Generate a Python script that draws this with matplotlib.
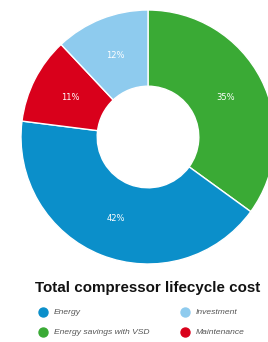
import matplotlib
matplotlib.use("Agg")
import matplotlib.pyplot as plt

categories = ["Energy savings with VSD", "Energy", "Maintenance", "Investment"]
values = [35, 42, 11, 12]
colors = ["#3aaa35", "#0b8fca", "#d9001b", "#8ecbee"]
labels = ["35%", "42%", "11%", "12%"]

legend_order = ["Energy", "Energy savings with VSD", "Investment", "Maintenance"]
title = "Total compressor lifecycle cost"

fig = plt.figure(figsize=(2.68, 3.42), dpi=100)
fig.patch.set_facecolor("white")

ax = fig.add_axes([21/268, 78/342, 254/268, 254/342])
wedges, texts = ax.pie(values, colors=colors, startangle=90, counterclock=False,
                       radius=1.0, wedgeprops=dict(width=0.6, edgecolor="white", linewidth=1.0),
                       labels=labels, labeldistance=0.69,
                       textprops=dict(color="white", fontsize=6, ha="center", va="center"))
ax.set_xlim(-1, 1)
ax.set_ylim(-1, 1)
ax.set_aspect("equal")
ax.axis("off")

fig.text(148/268, 1 - 288/342, title, ha="center", va="center",
         fontsize=10.9, fontweight="bold", family="Liberation Sans", color="#111111")

cmap = dict(zip(categories, colors))
xs = [43, 185]
ys = [312, 332]
lax = fig.add_axes([0, 0, 1, 1])
lax.set_xlim(0, 268)
lax.set_ylim(342, 0)
lax.axis("off")
for i, name in enumerate(legend_order):
    col, row = divmod(i, 2)
    x, y = xs[col], ys[row]
    lax.scatter([x], [y], s=42, color=cmap[name], zorder=3)
    lax.text(x + 11, y, name, ha="left", va="center", fontsize=6.1,
             style="italic", color="#555555", family="Liberation Sans")

fig.savefig("out.png", dpi=100, facecolor="white")
